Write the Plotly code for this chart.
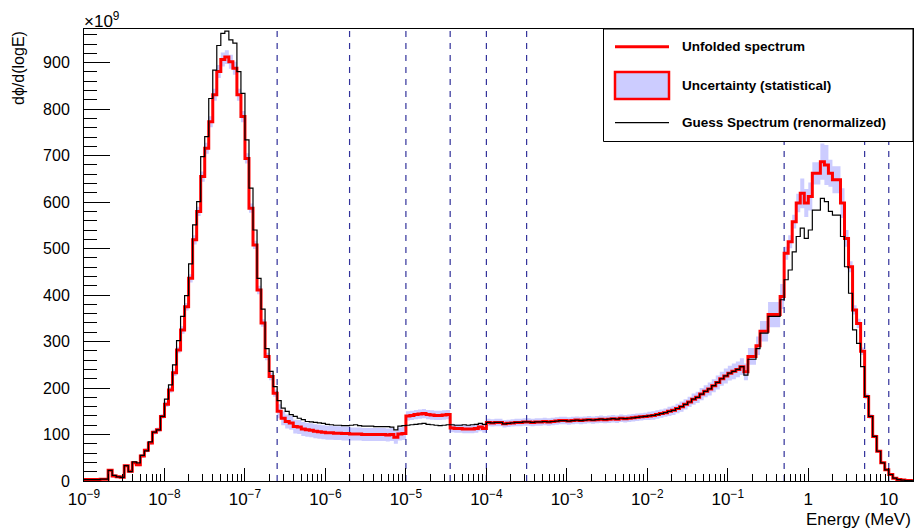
import numpy as np
import plotly.graph_objects as go

# ---------------- data ----------------
LOG_EMIN = -9.0          # log10 of the first bin edge (MeV)
BINS_PER_DECADE = 20
N_BINS = 206

# Unfolded spectrum (x1e9), one value per bin
unfolded = [
    3, 3, 3, 3, 4, 4, 23, 11, 9, 8,
    33, 21, 39, 35, 54, 66, 82, 105, 110, 139,
    165, 196, 233, 282, 325, 375, 436, 519, 580, 655,
    716, 773, 831, 881, 907, 912, 902, 888, 831, 784,
    694, 587, 508, 411, 340, 268, 225, 189, 150, 135,
    128, 125, 117, 116, 112, 110, 109, 107, 106, 105,
    104, 104, 103, 103, 102, 102, 101, 101, 101, 100,
    100, 100, 100, 100, 100, 99, 100, 94, 101, 102,
    140, 141, 143, 144, 145, 143, 142, 141, 141, 142,
    143, 114, 113, 113, 112, 112, 112, 113, 116, 113,
    126, 125, 126, 126, 123, 124, 125, 126, 126, 127,
    127, 126, 127, 127, 128, 127, 128, 129, 130, 130,
    129, 130, 131, 130, 131, 132, 131, 132, 133, 132,
    133, 134, 133, 135, 134, 135, 136, 137, 138, 139,
    140, 141, 143, 145, 147, 150, 152, 156, 160, 165,
    170, 176, 180, 187, 193, 198, 205, 212, 220, 226,
    232, 236, 240, 246, 235, 268, 268, 291, 322, 322,
    358, 358, 358, 397, 490, 515, 558, 598, 619, 598,
    612, 662, 662, 687, 680, 662, 648, 648, 598, 522,
    461, 368, 339, 279, 182, 139, 96, 64, 39, 24,
    14, 6, 3, 2, 1, 1,
]

# Statistical uncertainty of the unfolded spectrum (x1e9)
uncertainty = [
    2, 2, 2, 2, 2, 2, 3, 3, 3, 3,
    3, 3, 3, 3, 4, 4, 4, 5, 5, 5,
    6, 6, 7, 7, 8, 8, 9, 10, 10, 11,
    12, 12, 13, 14, 15, 15, 15, 14, 13, 12,
    11, 10, 9, 9, 8, 8, 8, 8, 15, 15,
    15, 15, 15, 15, 15, 15, 15, 15, 15, 15,
    15, 15, 15, 15, 15, 15, 14, 14, 14, 14,
    14, 14, 14, 14, 14, 14, 14, 14, 14, 14,
    10, 10, 10, 10, 10, 10, 10, 10, 10, 10,
    10, 9, 9, 9, 9, 9, 9, 9, 9, 9,
    8, 8, 8, 8, 8, 8, 8, 8, 8, 8,
    8, 8, 8, 8, 8, 8, 8, 8, 8, 8,
    8, 8, 8, 8, 8, 8, 8, 8, 8, 8,
    8, 8, 8, 8, 8, 8, 8, 8, 8, 8,
    9, 9, 9, 9, 9, 10, 10, 10, 11, 11,
    11, 12, 12, 13, 13, 14, 14, 15, 15, 16,
    16, 17, 17, 18, 18, 18, 18, 20, 22, 22,
    27, 27, 27, 27, 14, 14, 15, 20, 32, 30,
    30, 24, 24, 39, 43, 29, 29, 29, 32, 18,
    12, 10, 10, 8, 6, 5, 4, 3, 2, 2,
    1, 1, 1, 1, 1, 1,
]

# Guess spectrum (renormalized, x1e9)
guess = [
    3, 3, 3, 3, 4, 4, 23, 12, 9, 8,
    33, 20, 41, 39, 55, 65, 84, 105, 110, 139,
    176, 207, 250, 302, 354, 399, 467, 551, 601, 698,
    741, 823, 884, 937, 963, 968, 949, 942, 881, 834,
    734, 630, 540, 436, 370, 285, 236, 203, 173, 157,
    150, 143, 139, 135, 132, 128, 127, 126, 125, 124,
    122, 121, 120, 120, 119, 119, 120, 121, 119, 118,
    118, 118, 117, 117, 117, 117, 116, 110, 118, 119,
    120, 121, 122, 123, 124, 122, 121, 120, 119, 120,
    121, 121, 120, 120, 121, 120, 121, 122, 124, 122,
    126, 125, 126, 126, 123, 124, 125, 126, 126, 127,
    127, 126, 127, 127, 128, 127, 128, 129, 130, 130,
    129, 130, 131, 130, 131, 132, 131, 132, 133, 132,
    133, 134, 133, 135, 134, 135, 136, 137, 138, 139,
    140, 141, 143, 145, 147, 150, 152, 156, 160, 165,
    170, 176, 180, 187, 193, 198, 205, 212, 220, 226,
    232, 236, 240, 246, 228, 262, 262, 285, 318, 318,
    354, 354, 354, 390, 433, 454, 493, 526, 544, 522,
    540, 583, 583, 608, 601, 580, 572, 572, 526, 461,
    404, 325, 296, 246, 182, 139, 96, 64, 39, 24,
    14, 6, 3, 2, 1, 1,
]

# Boundaries of the unfolding regions (MeV)
region_edges = [2.512e-7, 1.995e-6, 1.0e-5, 3.548e-5, 1.0e-4, 3.162e-4, 0.5012, 5.012, 10.0]

x_tick_vals = [1e-9, 1e-8, 1e-7, 1e-6, 1e-5, 1e-4, 1e-3, 1e-2, 1e-1, 1, 10]
x_tick_text = ["10<sup>\u22129</sup>", "10<sup>\u22128</sup>", "10<sup>\u22127</sup>",
               "10<sup>\u22126</sup>", "10<sup>\u22125</sup>", "10<sup>\u22124</sup>",
               "10<sup>\u22123</sup>", "10<sup>\u22122</sup>", "10<sup>\u22121</sup>",
               "1", "10"]
y_tick_vals = [0, 100, 200, 300, 400, 500, 600, 700, 800, 900]

X_MAX = 20.0
Y_MAX = 972.5

# ---------------- build ----------------
edges = 10 ** (LOG_EMIN + np.arange(N_BINS + 1) / BINS_PER_DECADE)

def steps(vals):
    v = list(vals)
    return v + [v[-1]]

unf = np.array(unfolded, dtype=float)
err = np.array(uncertainty, dtype=float)
lo = np.clip(unf - err, 0, None)
hi = unf + err

FONT = "Liberation Sans, Arial, Helvetica, sans-serif"
BAND = "rgb(204,204,255)"
DASH_COL = "rgb(50,50,155)"

fig = go.Figure()
fig.add_trace(go.Scatter(x=edges, y=steps(lo), mode="lines", line=dict(width=0, shape="hv"),
                         hoverinfo="skip", showlegend=False))
fig.add_trace(go.Scatter(x=edges, y=steps(hi), mode="lines", line=dict(width=0, shape="hv"),
                         fill="tonexty", fillcolor=BAND, hoverinfo="skip", showlegend=False))
for e in region_edges:
    fig.add_trace(go.Scatter(x=[e, e], y=[0, Y_MAX], mode="lines",
                             line=dict(color=DASH_COL, width=1.2, dash="6px,6px"),
                             hoverinfo="skip", showlegend=False))
fig.add_trace(go.Scatter(x=edges, y=steps(unfolded), mode="lines",
                         line=dict(color="rgb(255,0,0)", width=3, shape="hv"),
                         name="Unfolded spectrum", showlegend=False))
fig.add_trace(go.Scatter(x=edges, y=steps(guess), mode="lines",
                         line=dict(color="black", width=1.2, shape="hv"),
                         name="Guess Spectrum (renormalized)", showlegend=False))

fig.update_layout(
    width=914, height=529,
    margin=dict(l=84, r=1, t=29, b=48),
    paper_bgcolor="white", plot_bgcolor="white",
    font=dict(family=FONT, color="black"),
    showlegend=False,
)
fig.update_xaxes(
    type="log", range=[np.log10(edges[0]), np.log10(X_MAX)],
    tickvals=x_tick_vals, ticktext=x_tick_text,
    ticks="inside", ticklen=13, tickwidth=1, tickcolor="black",
    minor=dict(ticks="inside", ticklen=7, tickcolor="black", dtick="D1", showgrid=False),
    showline=True, linecolor="black", linewidth=1, mirror=True,
    showgrid=False, zeroline=False,
    tickfont=dict(size=17, family=FONT), ticklabelstandoff=3,
)
fig.update_yaxes(
    range=[0, Y_MAX], tickvals=y_tick_vals,
    ticks="inside", ticklen=26, tickwidth=1, tickcolor="black",
    minor=dict(ticks="inside", ticklen=13, tickcolor="black", dtick=20, showgrid=False),
    showline=True, linecolor="black", linewidth=1, mirror=True,
    showgrid=False, zeroline=False,
    tickfont=dict(size=16, family=FONT), ticklabelstandoff=10,
)

def px_x(p):
    return (p - 84) / 829.0

def px_y(p):
    return (481 - p) / 452.0

ann = [
    dict(text="\u00d710<sup>9</sup>", x=px_x(82), y=px_y(20), xref="paper", yref="paper",
         xanchor="left", yanchor="middle", showarrow=False, font=dict(size=17, family=FONT)),
    dict(text="d\u03d5/d(logE)", x=px_x(18), y=1.0, xref="paper", yref="paper", textangle=-90,
         xanchor="center", yanchor="top", showarrow=False, font=dict(size=16, family=FONT)),
    dict(text="Energy (MeV)", x=1.0, y=px_y(519), xref="paper", yref="paper",
         xanchor="right", yanchor="middle", showarrow=False, font=dict(size=17, family=FONT)),
]
legend_labels = ["Unfolded spectrum", "Uncertainty (statistical)", "Guess Spectrum (renormalized)"]
legend_rows = [46.7, 85.5, 122.7]
for lab, r in zip(legend_labels, legend_rows):
    ann.append(dict(text="<b>%s</b>" % lab, x=px_x(680), y=px_y(r), xref="paper", yref="paper",
                    xanchor="left", yanchor="middle", showarrow=False,
                    font=dict(size=13.5, family=FONT)))

shapes = [
    dict(type="rect", xref="paper", yref="paper", x0=px_x(603.5), x1=1.0, y0=px_y(141.5), y1=1.0,
         line=dict(color="black", width=1), fillcolor="white", layer="above"),
    dict(type="line", xref="paper", yref="paper", x0=px_x(615), x1=px_x(669),
         y0=px_y(legend_rows[0]), y1=px_y(legend_rows[0]), line=dict(color="rgb(255,0,0)", width=3)),
    dict(type="rect", xref="paper", yref="paper", x0=px_x(615), x1=px_x(669),
         y0=px_y(99), y1=px_y(72), line=dict(color="rgb(255,0,0)", width=2.5), fillcolor=BAND),
    dict(type="line", xref="paper", yref="paper", x0=px_x(615), x1=px_x(669),
         y0=px_y(legend_rows[2]), y1=px_y(legend_rows[2]), line=dict(color="black", width=1.2)),
]
fig.update_layout(annotations=ann, shapes=shapes)

fig.write_html("out.html")
